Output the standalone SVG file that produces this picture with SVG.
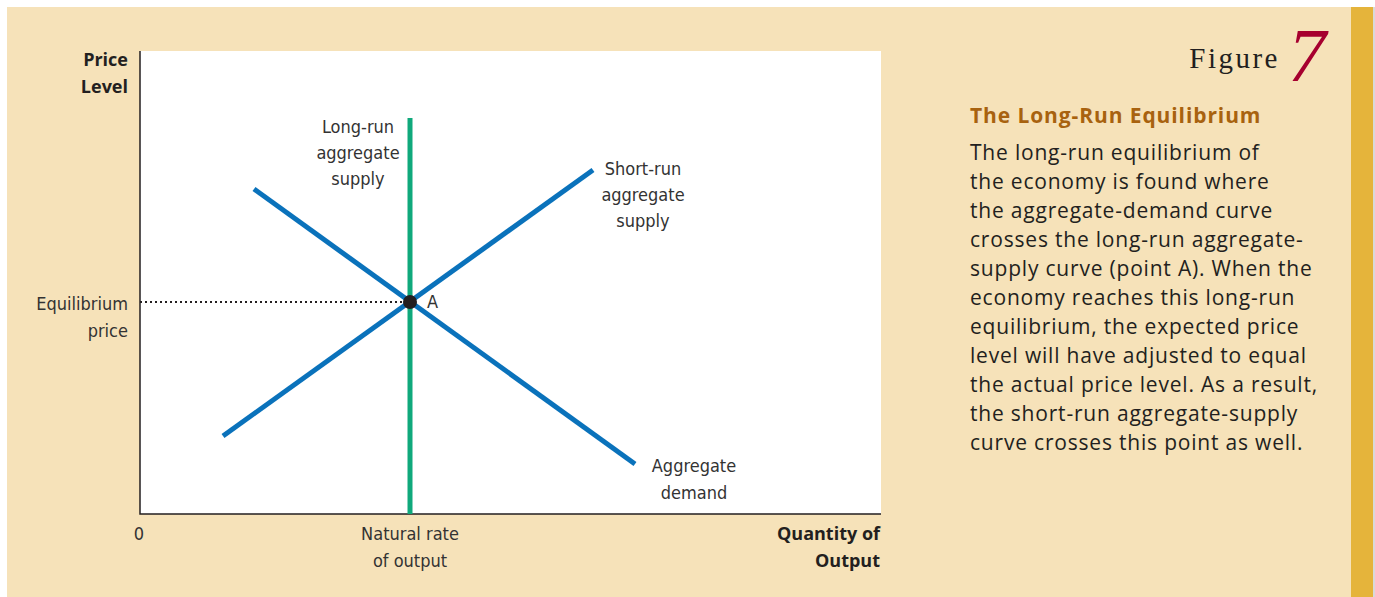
<svg xmlns="http://www.w3.org/2000/svg" width="1375" height="597" viewBox="0 0 1375 597">
<style>
.lbl{font-family:"Liberation Sans Narrow","DejaVu Sans Condensed","Open Sans",sans-serif;font-size:18px;fill:#333;font-stretch:condensed}
.axb{font-family:"Open Sans","Liberation Sans",sans-serif;font-size:18px;font-weight:bold;fill:#231f20}
.body{font-family:"Open Sans","Noto Sans","Liberation Sans",sans-serif;font-size:21px;letter-spacing:0.8px;fill:#231f20}
.curve{stroke:#0a72bb;stroke-width:5;fill:none}
</style>
<rect x="0" y="0" width="1375" height="597" fill="#ffffff"/>
<rect x="7" y="7" width="1344" height="590" fill="#f6e2b9"/>
<rect x="1351" y="7" width="22" height="590" fill="#e5b43b"/>
<rect x="1373" y="7" width="2" height="590" fill="#d9d9d9"/>
<g id="plot">
<rect x="140" y="51" width="741" height="463" fill="#ffffff"/>
<path d="M140 51V514H881" stroke="#231f20" stroke-width="1.5" fill="none"/>
</g>
<g id="connectors">
<line x1="140" y1="302" x2="404" y2="302" stroke="#231f20" stroke-width="2" stroke-dasharray="2,3"/>
<line id="lras" x1="410" y1="118" x2="410" y2="514" stroke="#10a97c" stroke-width="5"/>
<line id="ad" class="curve" x1="254" y1="189" x2="635" y2="464"/>
<line id="sras" class="curve" x1="223" y1="436" x2="593" y2="170"/>
</g>
<g id="pointA">
<circle cx="410" cy="302" r="7" fill="#231f20"/>
<text class="lbl" x="427" y="308">A</text>
</g>
<g id="lras-label"><text class="lbl" text-anchor="middle"><tspan x="358" y="133">Long-run</tspan><tspan x="358" y="159">aggregate</tspan><tspan x="358" y="185">supply</tspan></text></g>
<g id="sras-label"><text class="lbl" text-anchor="middle"><tspan x="643" y="175">Short-run</tspan><tspan x="643" y="201">aggregate</tspan><tspan x="643" y="227">supply</tspan></text></g>
<g id="ad-label"><text class="lbl" text-anchor="middle"><tspan x="694" y="472">Aggregate</tspan><tspan x="694" y="499">demand</tspan></text></g>
<g id="eq-label"><text class="lbl" text-anchor="end"><tspan x="128" y="310">Equilibrium</tspan><tspan x="128" y="337">price</tspan></text></g>
<g id="zero"><text class="lbl" x="139" y="540" text-anchor="middle">0</text></g>
<g id="natural"><text class="lbl" text-anchor="middle"><tspan x="410" y="540">Natural rate</tspan><tspan x="410" y="567">of output</tspan></text></g>
<g id="yaxis"><text class="axb" text-anchor="end"><tspan x="128" y="66">Price</tspan><tspan x="128" y="93">Level</tspan></text></g>
<g id="xaxis"><text class="axb" text-anchor="end"><tspan x="880" y="540">Quantity of</tspan><tspan x="880" y="567">Output</tspan></text></g>
<g id="caption">
<text x="1280" y="68" text-anchor="end" font-family="'Liberation Serif',serif" font-size="29" fill="#231f20" letter-spacing="2.5">Figure</text>
<text x="1288" y="81" font-family="'Liberation Serif',serif" font-size="76" font-style="italic" fill="#a6002f">7</text>
<text x="970" y="123" font-family="'Open Sans','Liberation Sans',sans-serif" font-size="21" font-weight="bold" letter-spacing="0.9" fill="#a8620f">The Long-Run Equilibrium</text>
<text class="body">
<tspan x="970" y="160">The long-run equilibrium of</tspan>
<tspan x="970" y="189">the economy is found where</tspan>
<tspan x="970" y="218">the aggregate-demand curve</tspan>
<tspan x="970" y="247">crosses the long-run aggregate-</tspan>
<tspan x="970" y="276">supply curve (point A). When the</tspan>
<tspan x="970" y="305">economy reaches this long-run</tspan>
<tspan x="970" y="334">equilibrium, the expected price</tspan>
<tspan x="970" y="363">level will have adjusted to equal</tspan>
<tspan x="970" y="392">the actual price level. As a result,</tspan>
<tspan x="970" y="421">the short-run aggregate-supply</tspan>
<tspan x="970" y="450">curve crosses this point as well.</tspan>
</text>
</g>
</svg>
